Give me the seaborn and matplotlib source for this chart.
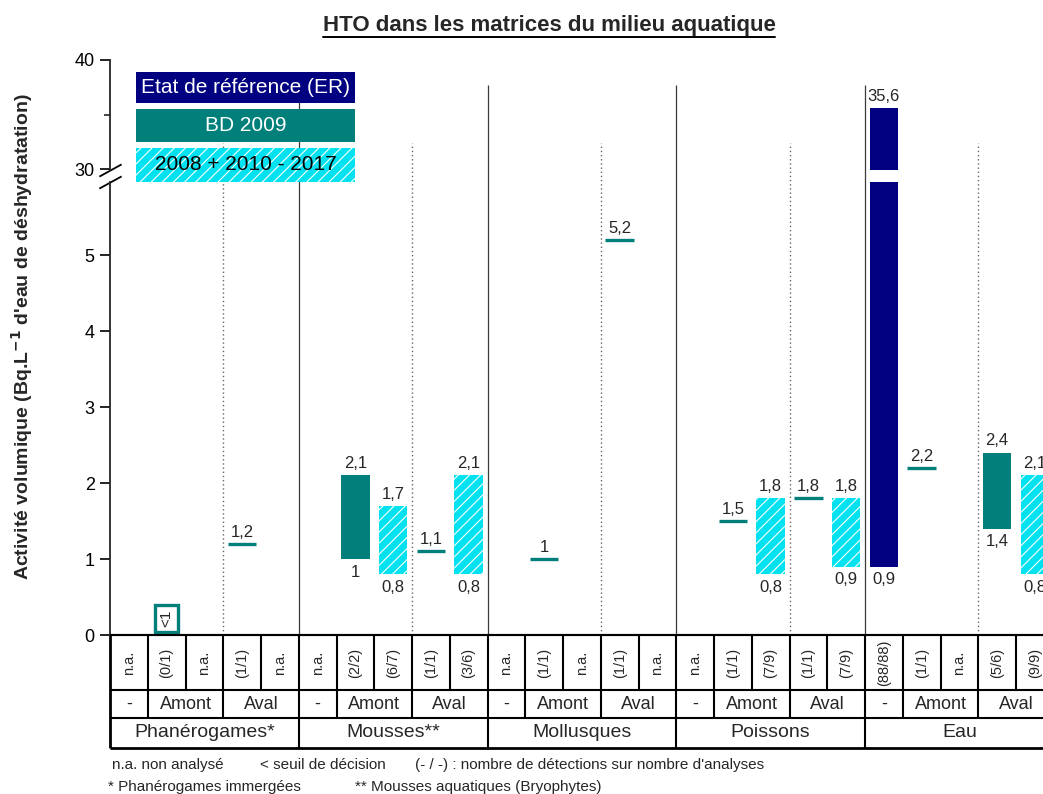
import numpy as np
import pandas as pd
import matplotlib
matplotlib.use("Agg")
import matplotlib.pyplot as plt
import seaborn as sns
from matplotlib.patches import Rectangle
from matplotlib.lines import Line2D

sns.set_style("ticks")
plt.rcParams['font.family'] = ['Liberation Sans', 'DejaVu Sans']
plt.rcParams['hatch.linewidth'] = 0.8

# ---------------- data ----------------
title = "HTO dans les matrices du milieu aquatique"
ylabel = "Activité volumique (Bq.L$^{\\mathbf{-1}}$ d'eau de déshydratation)"
groups = ["Phanérogames*", "Mousses**", "Mollusques", "Poissons", "Eau"]
sub_labels = ["-", "Amont", "Aval"]
detections = ["n.a.", "(0/1)", "n.a.", "(1/1)", "n.a.",
              "n.a.", "(2/2)", "(6/7)", "(1/1)", "(3/6)",
              "n.a.", "(1/1)", "n.a.", "(1/1)", "n.a.",
              "n.a.", "(1/1)", "(7/9)", "(1/1)", "(7/9)",
              "(88/88)", "(1/1)", "n.a.", "(5/6)", "(9/9)"]
series_names = ["Etat de référence (ER)", "BD 2009", "2008 + 2010 - 2017"]

er_cols = [20]
er_min = [0.9]
er_max = [35.6]

bd_cols = [6, 23]
bd_min = [1.0, 1.4]
bd_max = [2.1, 2.4]

bd_single_cols = [3, 8, 11, 13, 16, 18, 21]
bd_single = [1.2, 1.1, 1.0, 5.2, 1.5, 1.8, 2.2]

rec_cols = [7, 9, 17, 19, 24]
rec_min = [0.8, 0.8, 0.8, 0.9, 0.8]
rec_max = [1.7, 2.1, 1.8, 1.8, 2.1]

below_cols = [1]
below_text = "<1"

footnotes_1 = ["n.a. non analysé", "< seuil de décision",
               "(- / -) : nombre de détections sur nombre d'analyses"]
footnotes_2 = ["* Phanérogames immergées", "** Mousses aquatiques (Bryophytes)"]

# ---------------- style ----------------
NAVY = "#000080"
TEAL = "#007F7B"
CYAN = "#00E2F0"
W, H = 1043, 794
n_cols = len(detections)
left_px, col_w = 110, 37.75
right_px = left_px + col_w * n_cols
bar_w = 0.75


def rect(l, t, r, b):
    return [l / W, 1 - b / H, (r - l) / W, (b - t) / H]


fig = plt.figure(figsize=(W / 100, H / 100), dpi=100)

# overlay for separator lines
ax_sep = fig.add_axes(rect(left_px, 60, right_px, 635), zorder=0)
ax_sep.set_xlim(-0.5, n_cols - 0.5)
ax_sep.set_ylim(635, 60)
ax_sep.axis("off")
grp_bounds = [g * 5 - 0.5 for g in range(1, len(groups))]
sub_bounds = [g * 5 + 2.5 for g in range(len(groups))]
ax_sep.vlines(grp_bounds, 635, 85, color="#3a3a3a", lw=0.9)
ax_sep.vlines(sub_bounds, 635, 143, color="#666666", lw=1.0, linestyles=(0, (1, 2)))

ax_bot = fig.add_axes(rect(left_px, 182, right_px, 635), zorder=2)
ax_top = fig.add_axes(rect(left_px, 60, right_px, 170), zorder=2)
order = [f"c{i}" for i in range(n_cols)]


def floating(ax, cols, lo, hi, **kw):
    df = pd.DataFrame({"col": [f"c{c}" for c in cols], "idx": cols,
                       "h": np.array(hi) - np.array(lo), "lo": lo}).sort_values("idx")
    sns.barplot(data=df, x="col", y="h", order=order, bottom=df["lo"].values,
                width=bar_w, saturation=1, errorbar=None, ax=ax, **kw)


for ax in (ax_bot, ax_top):
    ax.set_facecolor("none")
    floating(ax, er_cols, er_min, er_max, color=NAVY, linewidth=0)
    floating(ax, bd_cols, bd_min, bd_max, color=TEAL, linewidth=0)
    floating(ax, rec_cols, rec_min, rec_max, color=CYAN, edgecolor="white",
             linewidth=0, hatch="///")
    ax.hlines(bd_single, np.array(bd_single_cols) - bar_w / 2,
              np.array(bd_single_cols) + bar_w / 2, color=TEAL, lw=2.4)
    ax.set_xlim(-0.5, n_cols - 0.5)
    ax.set_xticks([])
    ax.set_xlabel("")
    ax.set_ylabel("")
    for s in ("top", "right"):
        ax.spines[s].set_visible(False)
    ax.spines["left"].set_linewidth(1.3)
    ax.tick_params(axis="y", direction="out", length=7, width=1.2, labelsize=13,
                   colors="black", pad=4)

ax_bot.set_ylim(0, (635 - 182) / 76)
ax_bot.set_yticks([0, 1, 2, 3, 4, 5])
ax_bot.spines["bottom"].set_linewidth(1.5)
ax_top.set_ylim(30 - 1 / 10.9, 40)
ax_top.set_yticks([30, 40])
ax_top.set_yticks([35], minor=True)
ax_top.tick_params(axis="y", which="minor", direction="out", length=4, width=1.2)
ax_top.spines["bottom"].set_visible(False)

# break marks
kw = dict(marker=[(-1, -0.55), (1, 0.55)], markersize=16, linestyle="none",
          color="k", mec="k", mew=1.3, clip_on=False)
ax_top.plot([0], [0], transform=ax_top.transAxes, **kw)
ax_bot.plot([0], [1], transform=ax_bot.transAxes, **kw)


def fmt(v):
    return f"{v:g}".replace(".", ",")


def top_label(ax, x, v):
    ax.annotate(fmt(v), (x, v), xytext=(0, 3), textcoords="offset points",
                ha="center", va="bottom", fontsize=12)


def bot_label(ax, x, v):
    ax.annotate(fmt(v), (x, v), xytext=(0, -4), textcoords="offset points",
                ha="center", va="top", fontsize=12)


for c, lo, hi in zip(er_cols, er_min, er_max):
    top_label(ax_top, c, hi)
    bot_label(ax_bot, c, lo)
for cols, los, his in ((bd_cols, bd_min, bd_max), (rec_cols, rec_min, rec_max)):
    for c, lo, hi in zip(cols, los, his):
        top_label(ax_bot, c, hi)
        bot_label(ax_bot, c, lo)
for c, v in zip(bd_single_cols, bd_single):
    top_label(ax_bot, c, v)
for c in below_cols:
    ax_bot.text(c, 0.22, below_text, rotation=90, ha="center", va="center", fontsize=11,
                bbox=dict(boxstyle="square,pad=0.3", fc="white", ec=TEAL, lw=2.4))

# legend boxes
leg_boxes = [(72, 103, NAVY, "white", None), (109, 142, TEAL, "white", None),
             (148, 182, CYAN, "black", "///")]
for name, (t, b, fc, tc, hatch) in zip(series_names, leg_boxes):
    r = Rectangle((136 / W, 1 - b / H), (355 - 136) / W, (b - t) / H,
                  transform=fig.transFigure, facecolor=fc,
                  edgecolor="white" if hatch else fc, lw=0, hatch=hatch, zorder=5)
    fig.add_artist(r)
    fig.text((136 + 355) / 2 / W, 1 - (t + b) / 2 / H, name, ha="center", va="center",
             color=tc, fontsize=15, zorder=6)

# table
ax_tab = fig.add_axes(rect(left_px, 635, right_px, 748), zorder=3)
ax_tab.set_xlim(-0.5, n_cols - 0.5)
ax_tab.set_ylim(112, 0)
ax_tab.axis("off")
r1, r2, r3 = 55, 82, 112
lc = dict(color="black", lw=1.5, clip_on=False)
ax_tab.hlines([0, r1, r2], -0.5, n_cols - 0.5, **lc)
ax_tab.hlines([r3], -0.5, n_cols - 0.5, color="black", lw=2, clip_on=False)
ax_tab.vlines([-0.5], 0, r3, color="black", lw=2, clip_on=False)
inner = [k + 0.5 for k in range(n_cols - 1) if (k + 1) % 5 != 0]
ax_tab.vlines(inner, 0, r1, **lc)
ax_tab.vlines([g * 5 + 0.5 for g in range(len(groups))] +
              [g * 5 + 2.5 for g in range(len(groups))], r1, r2, **lc)
ax_tab.vlines(grp_bounds, 0, r3, **lc)
for i, d in enumerate(detections):
    ax_tab.text(i, r1 / 2, d, rotation=90, ha="center", va="center", fontsize=10.5)
for g, gname in enumerate(groups):
    for pos, s in zip([0, 1.5, 3.5], sub_labels):
        ax_tab.text(g * 5 + pos, (r1 + r2) / 2, s, ha="center", va="center", fontsize=13)
    ax_tab.text(g * 5 + 2, (r2 + r3) / 2, gname, ha="center", va="center", fontsize=14)

# footnotes
for x, s in zip([112, 260, 415], footnotes_1):
    fig.text(x / W, 1 - 765 / H, s, ha="left", va="center", fontsize=11)
for x, s in zip([108, 355], footnotes_2):
    fig.text(x / W, 1 - 787 / H, s, ha="left", va="center", fontsize=11)

# y label and title
fig.text(22 / W, 1 - 337 / H, ylabel, rotation=90, ha="center", va="center",
         fontsize=14, fontweight="bold")
t = fig.text(549 / W, 1 - 25 / H, title, ha="center", va="center", fontsize=16,
             fontweight="bold")
fig.canvas.draw()
bb = t.get_window_extent()
fig.add_artist(Line2D([bb.x0 / W, bb.x1 / W], [(bb.y0 - 1) / H, (bb.y0 - 1) / H],
                      transform=fig.transFigure, color="black", lw=1.4))

fig.savefig("out.png", dpi=100)
